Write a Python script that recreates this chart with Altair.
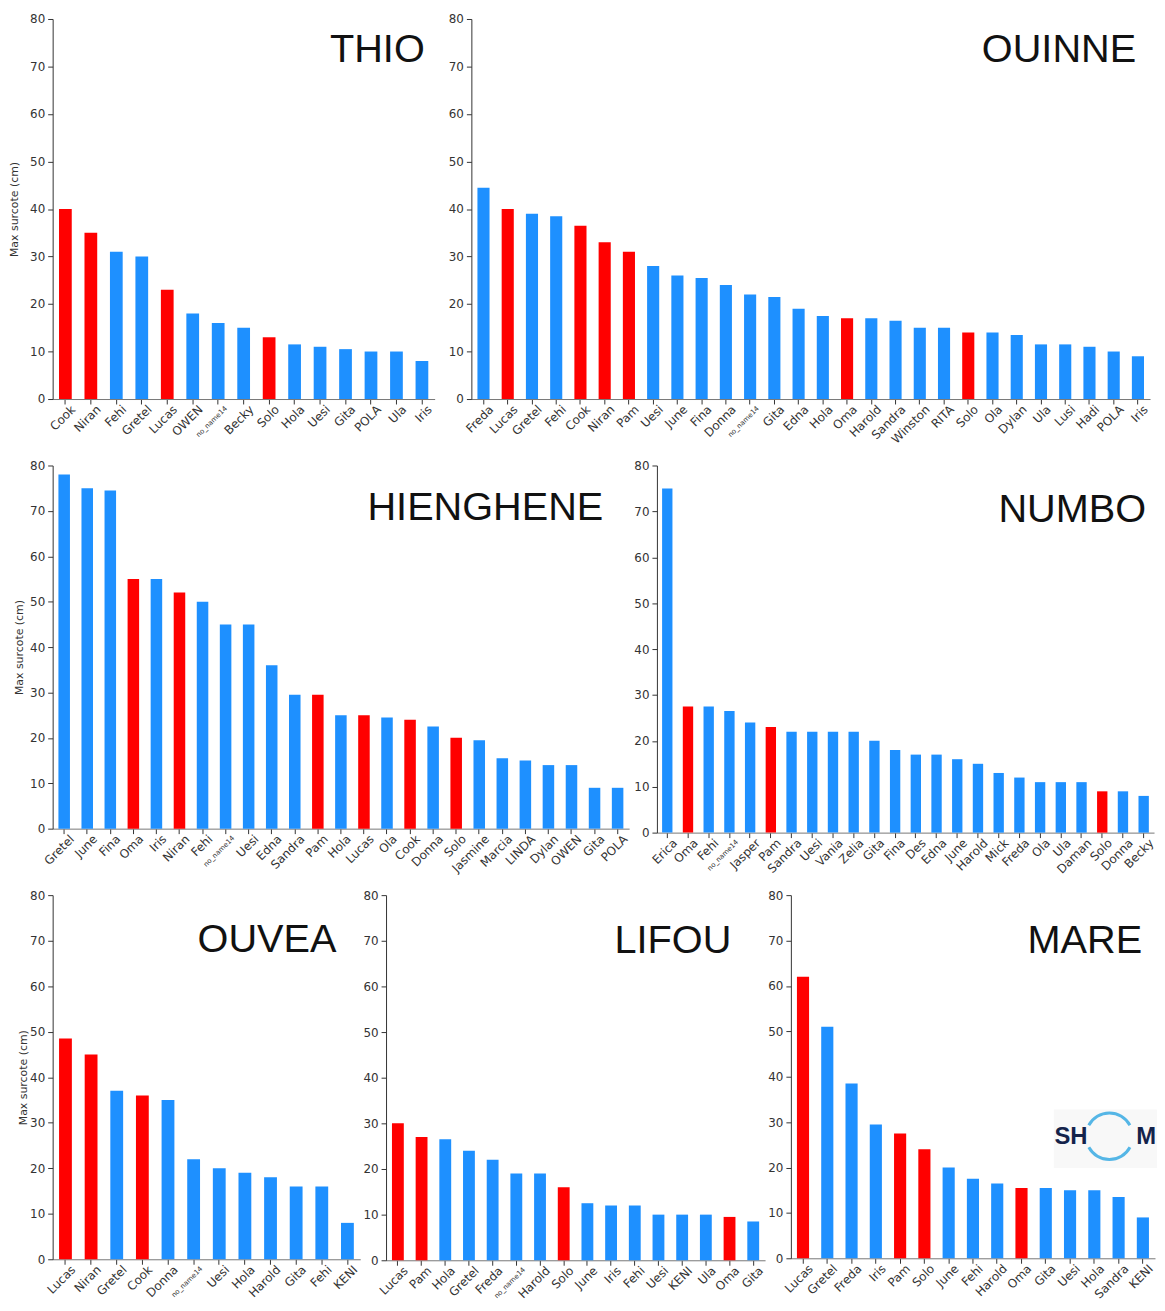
import altair as alt
import pandas as pd

BLUE = "#1E90FF"
RED = "#FF0000"
TXT = "#333333"

# ---------------- data ----------------
thio_names = ["Cook", "Niran", "Fehi", "Gretel", "Lucas", "OWEN", "no_name14", "Becky", "Solo",
              "Hola", "Uesi", "Gita", "POLA", "Ula", "Iris"]
thio_values = [40, 35, 31, 30, 23, 18, 16, 15, 13, 11.5, 11, 10.5, 10, 10, 8]
thio_red = ["Cook", "Niran", "Lucas", "Solo"]

ouinne_names = ["Freda", "Lucas", "Gretel", "Fehi", "Cook", "Niran", "Pam", "Uesi", "June", "Fina",
                "Donna", "no_name14", "Gita", "Edna", "Hola", "Oma", "Harold", "Sandra", "Winston",
                "RITA", "Solo", "Ola", "Dylan", "Ula", "Lusi", "Hadi", "POLA", "Iris"]
ouinne_values = [44.5, 40, 39, 38.5, 36.5, 33, 31, 28, 26, 25.5, 24, 22, 21.5, 19, 17.5, 17, 17,
                 16.5, 15, 15, 14, 14, 13.5, 11.5, 11.5, 11, 10, 9]
ouinne_red = ["Lucas", "Cook", "Niran", "Pam", "Oma", "Solo"]

hienghene_names = ["Gretel", "June", "Fina", "Oma", "Iris", "Niran", "Fehi", "no_name14", "Uesi",
                   "Edna", "Sandra", "Pam", "Hola", "Lucas", "Ola", "Cook", "Donna", "Solo",
                   "Jasmine", "Marcia", "LINDA", "Dylan", "OWEN", "Gita", "POLA"]
hienghene_values = [78, 75, 74.5, 55, 55, 52, 50, 45, 45, 36, 29.5, 29.5, 25, 25, 24.5, 24, 22.5,
                    20, 19.5, 15.5, 15, 14, 14, 9, 9]
hienghene_red = ["Oma", "Niran", "Pam", "Lucas", "Cook", "Solo"]

numbo_names = ["Erica", "Oma", "Fehi", "no_name14", "Jasper", "Pam", "Sandra", "Uesi", "Vania",
               "Zelia", "Gita", "Fina", "Des", "Edna", "June", "Harold", "Mick", "Freda", "Ola",
               "Ula", "Daman", "Solo", "Donna", "Becky"]
numbo_values = [75, 27.5, 27.5, 26.5, 24, 23, 22, 22, 22, 22, 20, 18, 17, 17, 16, 15, 13, 12, 11,
                11, 11, 9, 9, 8]
numbo_red = ["Oma", "Pam", "Solo"]

ouvea_names = ["Lucas", "Niran", "Gretel", "Cook", "Donna", "no_name14", "Uesi", "Hola", "Harold",
               "Gita", "Fehi", "KENI"]
ouvea_values = [48.5, 45, 37, 36, 35, 22, 20, 19, 18, 16, 16, 8]
ouvea_red = ["Lucas", "Niran", "Cook"]

lifou_names = ["Lucas", "Pam", "Hola", "Gretel", "Freda", "no_name14", "Harold", "Solo", "June",
               "Iris", "Fehi", "Uesi", "KENI", "Ula", "Oma", "Gita"]
lifou_values = [30, 27, 26.5, 24, 22, 19, 19, 16, 12.5, 12, 12, 10, 10, 10, 9.5, 8.5]
lifou_red = ["Lucas", "Pam", "Solo", "Oma"]

mare_names = ["Lucas", "Gretel", "Freda", "Iris", "Pam", "Solo", "June", "Fehi", "Harold", "Oma",
              "Gita", "Uesi", "Hola", "Sandra", "KENI"]
mare_values = [62, 51, 38.5, 29.5, 27.5, 24, 20, 17.5, 16.5, 15.5, 15.5, 15, 15, 13.5, 9]
mare_red = ["Lucas", "Pam", "Solo", "Oma"]

y_ticks = [0, 10, 20, 30, 40, 50, 60, 70, 80]


def panel(title, names, values, reds, width, height, show_ytitle, title_pad,
          title_inset, title_base, logo=False):
    df = pd.DataFrame({
        "name": names,
        "value": values,
        "kind": ["red" if n in reds else "blue" for n in names],
    })
    if show_ytitle:
        yaxis = alt.Axis(values=y_ticks, title="Max surcote (cm)", titleFontSize=11,
                         titleFontWeight="normal", titleColor=TXT, titleFont="DejaVu Sans",
                         titlePadding=title_pad, grid=False, tickSize=5, labelPadding=3,
                         labelFont="DejaVu Sans", labelFontSize=12, labelColor=TXT,
                         domainColor=TXT, tickColor=TXT)
    else:
        yaxis = alt.Axis(values=y_ticks, title=None, grid=False, tickSize=5, labelPadding=3,
                         labelFont="DejaVu Sans", labelFontSize=12, labelColor=TXT,
                         domainColor=TXT, tickColor=TXT)
    xaxis = alt.Axis(title=None, labelAngle=-45, labelAlign="right", labelBaseline="middle",
                     labelPadding=3, labelOffset=8, tickSize=5, labelFont="DejaVu Sans",
                     labelFontSize={"condition": {"test": "datum.value == 'no_name14'", "value": 7},
                                    "value": 12},
                     labelColor=TXT, domainColor="#777777", tickColor=TXT, grid=False,
                     labelOverlap=False, labelBound=False)
    bars = alt.Chart(df).mark_bar().encode(
        x=alt.X("name:N", sort=None, axis=xaxis,
                scale=alt.Scale(paddingInner=0.5, paddingOuter=0.25)),
        y=alt.Y("value:Q", axis=yaxis, scale=alt.Scale(domain=[0, 80], nice=False)),
        color=alt.Color("kind:N", scale=alt.Scale(domain=["red", "blue"], range=[RED, BLUE]),
                        legend=None),
    )
    lbl = alt.Chart(pd.DataFrame({"t": [title]})).mark_text(
        align="right", baseline="alphabetic", fontSize=40, font="Liberation Sans",
        color="#111111").encode(
        x=alt.value(width - title_inset), y=alt.value(title_base), text="t:N")
    layers = [bars, lbl]
    if logo:
        cx, cy = 321, 243
        box = alt.Chart(pd.DataFrame({"b": [1]})).mark_rect(color="#F8F8F8").encode(
            x=alt.value(cx - 56), x2=alt.value(cx + 48), y=alt.value(cy - 27), y2=alt.value(cy + 32))
        arcs = alt.Chart(pd.DataFrame({"a": [1]})).mark_arc(
            radius=25, radius2=22, theta=5.2, theta2=7.36, color="#55B6E6").encode(
            x=alt.value(cx), y=alt.value(cy))
        arcs2 = alt.Chart(pd.DataFrame({"a": [1]})).mark_arc(
            radius=25, radius2=22, theta=2.06, theta2=4.22, color="#55B6E6").encode(
            x=alt.value(cx), y=alt.value(cy))
        sh = alt.Chart(pd.DataFrame({"t": ["SH"]})).mark_text(
            align="right", baseline="middle", fontSize=24, fontWeight="bold",
            font="Liberation Sans", color="#14234B").encode(
            x=alt.value(cx - 22), y=alt.value(cy + 1), text="t:N")
        mm = alt.Chart(pd.DataFrame({"t": ["M"]})).mark_text(
            align="left", baseline="middle", fontSize=24, fontWeight="bold",
            font="Liberation Sans", color="#14234B").encode(
            x=alt.value(cx + 27), y=alt.value(cy + 1), text="t:N")
        layers += [box, arcs, arcs2, sh, mm]
    return alt.layer(*layers).properties(width=width, height=height)


thio = panel("THIO", thio_names, thio_values, thio_red, 385, 383, True, 10, 10, 43)
ouinne = panel("OUINNE", ouinne_names, ouinne_values, ouinne_red, 684, 383, False, 0, 14, 43)
hienghene = panel("HIENGHENE", hienghene_names, hienghene_values, hienghene_red, 581, 366, True,
                  5, 26, 55)
numbo = panel("NUMBO", numbo_names, numbo_values, numbo_red, 501, 370, False, 0, 8, 57)
ouvea = panel("OUVEA", ouvea_names, ouvea_values, ouvea_red, 310, 367, True, 1, 24, 57)
lifou = panel("LIFOU", lifou_names, lifou_values, lifou_red, 382, 368, False, 0, 34, 58)
mare = panel("MARE", mare_names, mare_values, mare_red, 367, 366, False, 0, 13, 58, logo=True)

row1 = alt.hconcat(thio, ouinne, spacing=13)
row2 = alt.hconcat(hienghene, numbo, spacing=3)
row3 = alt.hconcat(ouvea, lifou, mare, spacing=2)

chart = alt.vconcat(row1, row2, row3, spacing=14).properties(
    padding={"left": 0, "top": 0, "right": 0, "bottom": 0}
).configure_view(stroke=None).configure_concat(spacing=10)

chart.save("out.html", embed_options={"renderer": "svg", "actions": False})
